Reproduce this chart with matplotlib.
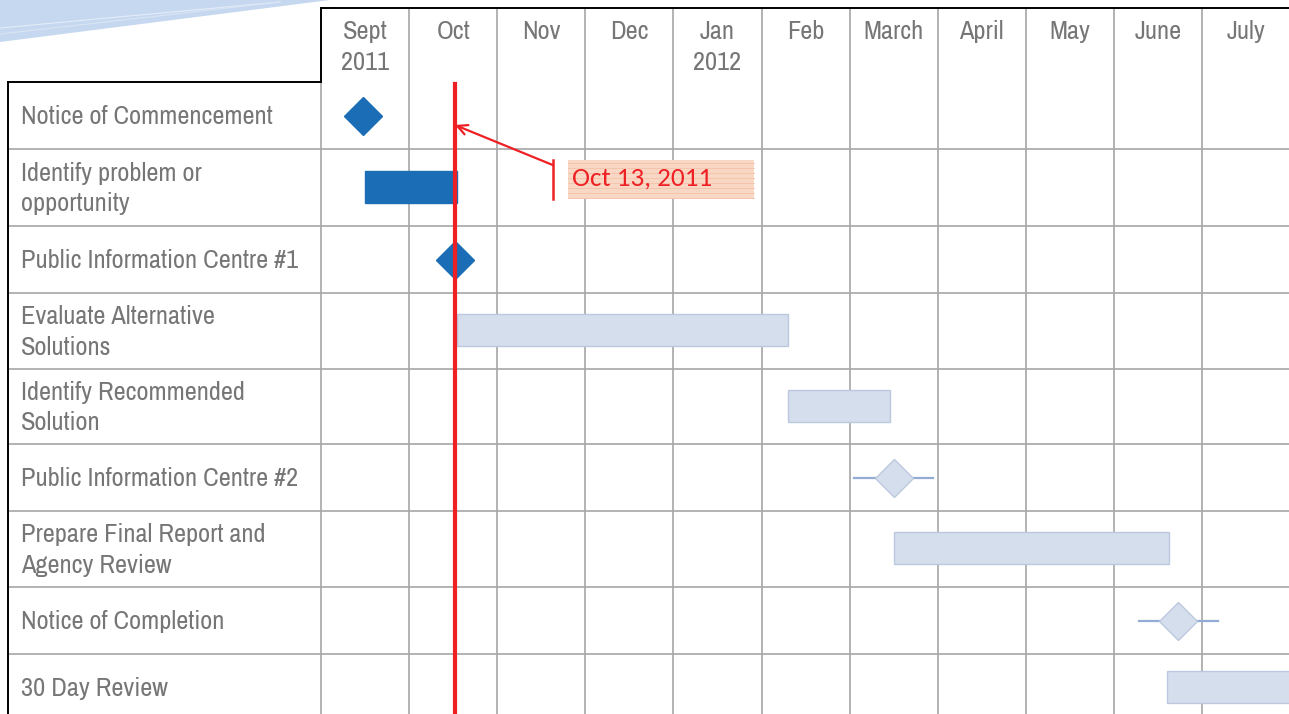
import numpy as np
import matplotlib
matplotlib.use("Agg")
import matplotlib.pyplot as plt
from matplotlib.patches import Rectangle, Polygon

# column headers (one column per month, starting Sept 2011)
months = ["Sept\n2011", "Oct", "Nov", "Dec", "Jan\n2012", "Feb", "March",
          "April", "May", "June", "July"]

# tasks, in months from 1 Sept 2011
tasks = ["Notice of Commencement", "Identify problem or\nopportunity",
         "Public Information Centre #1", "Evaluate Alternative\nSolutions",
         "Identify Recommended\nSolution", "Public Information Centre #2",
         "Prepare Final Report and\nAgency Review", "Notice of Completion",
         "30 Day Review"]
kind = ["ms", "bar", "ms", "bar", "bar", "ms", "bar", "ms", "bar"]
start = [0.48, 0.50, 1.52, 1.54, 5.30, 6.50, 6.50, 9.73, 9.60]
end = [0.48, 1.54, 1.52, 5.30, 6.46, 6.50, 9.63, 9.73, 11.30]
whisker = [0, 0, 0, 0, 0, 0.45, 0, 0.45, 0]
done = [True, True, True, False, False, False, False, False, False]

status_date = 1.52
status_label = "Oct 13, 2011"

# layout (pixels)
W, H = 1289, 714
x0_px, month_px = 321, 88.1
head_top, head_bot = 8, 82
row_h = [67, 77, 67, 76, 75, 67, 76, 67, 67]

dark = "#1B6DB5"
light = "#D5DEEC"
light_edge = "#BCC9DD"
grid_c = "#A6A6A6"
txt_c = "#767676"
red = "#EE2024"
narrow = ["Liberation Sans Narrow", "Archivo Narrow", "DejaVu Sans"]
callout_font = ["Carlito", "Lato", "DejaVu Sans"]

fig = plt.figure(figsize=(W / 100, H / 100), dpi=100)
ax = fig.add_axes([0, 0, 1, 1])
ax.set_xlim(-x0_px / month_px, (W - x0_px) / month_px)
ax.set_ylim(H, 0)
ax.axis("off")


def px(v):
    return (v - x0_px) / month_px


# decorative swoosh top-left
fig.patches.append(Polygon([(0, 1), (330 / W, 1), (0, 1 - 42 / H)], closed=True,
                           transform=fig.transFigure, facecolor="#C6D8F0",
                           edgecolor="none", zorder=0))
for k, c in [(28, "#E3ECF8"), (34, "#D9E4F4")]:
    fig.lines.append(plt.Line2D([0, 280 / W], [1 - k / H, 1 - 2 / H],
                                transform=fig.transFigure, color=c, lw=0.8))

edges = head_bot + np.concatenate([[0], np.cumsum(row_h)])
centers = (edges[:-1] + edges[1:]) / 2
n_m = len(months)
left = px(8)

# grid
for e in edges[1:]:
    ax.plot([left, n_m], [e, e], color=grid_c, lw=1.2, zorder=1)
for m in range(1, n_m + 1):
    ax.plot([m, m], [head_top, H], color=grid_c, lw=1.2, zorder=1)

# black frames
ax.plot([0, n_m], [head_top, head_top], color="black", lw=1.4, zorder=2)
ax.plot([0, 0], [head_top, head_bot], color="black", lw=1.4, zorder=2)
ax.plot([left, 0], [head_bot, head_bot], color="black", lw=1.4, zorder=2)
ax.plot([left, left], [head_bot, H], color="black", lw=1.4, zorder=2)
ax.plot([0, 0], [head_bot, H], color=grid_c, lw=1.2, zorder=1)

# headers
for m, lab in enumerate(months):
    ax.text(m + 0.5, 20, lab, ha="center", va="top", fontsize=19,
            color=txt_c, family=narrow, linespacing=1.42)

# task labels
for i, t in enumerate(tasks):
    ax.text(px(21), centers[i] + 1, t, ha="left", va="center", fontsize=19,
            color=txt_c, family=narrow, linespacing=1.42)

# bars and milestones
for i in range(len(tasks)):
    fc = dark if done[i] else light
    ec = dark if done[i] else light_edge
    if kind[i] == "bar":
        ax.add_patch(Rectangle((start[i], centers[i] - 17), end[i] - start[i], 32,
                               facecolor=fc, edgecolor=ec, lw=1, zorder=3,
                               clip_on=False))
    else:
        if whisker[i]:
            ax.plot([start[i] - whisker[i], start[i] + whisker[i]],
                    [centers[i], centers[i]], color="#93ACD6", lw=1.6, zorder=3)
        ax.plot(start[i], centers[i], marker="D", ms=19, color=fc,
                markeredgecolor=ec if not done[i] else fc, mew=1, zorder=4)

# status line
ax.plot([status_date, status_date], [head_bot + 2, H], color=red, lw=3, zorder=5)

# callout
tip_x = status_date + 1.11
ax.annotate("", xy=(status_date, 125), xytext=(tip_x, 165),
            arrowprops=dict(arrowstyle="->", color=red, lw=1.6,
                            mutation_scale=18, shrinkA=0, shrinkB=0), zorder=6)
ax.plot([tip_x, tip_x], [160, 199], color=red, lw=1.8, zorder=6)
bx0, bx1 = tip_x + 0.17, tip_x + 2.29
ax.add_patch(Rectangle((bx0, 160), bx1 - bx0, 39, facecolor="#F9D7C5",
                       edgecolor="none", zorder=5))
for yy in np.arange(163, 199, 5):
    ax.plot([bx0, bx1], [yy, yy], color="#F4C2A8", lw=0.6, zorder=5)
ax.text(bx0 + 0.05, 178, status_label, ha="left", va="center", fontsize=19.5,
        color=red, family=callout_font, zorder=6)

fig.savefig("out.png", dpi=100)
